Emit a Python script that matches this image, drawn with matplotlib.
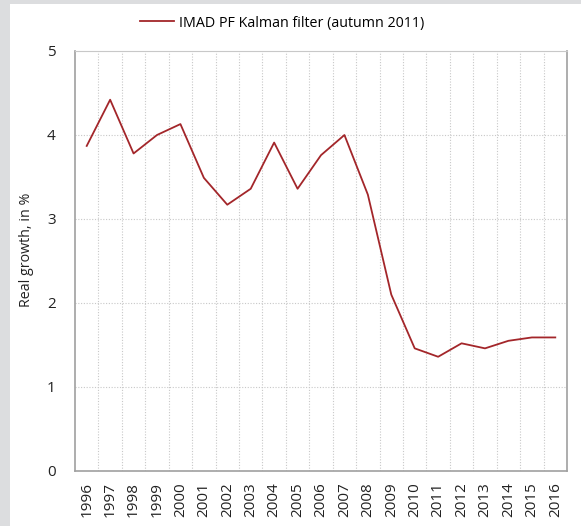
import matplotlib
matplotlib.use("Agg")
import matplotlib.pyplot as plt
from matplotlib.patches import Rectangle
from matplotlib.lines import Line2D

years = [str(y) for y in range(1996, 2017)]
growth = [3.87, 4.42, 3.78, 4.00, 4.13, 3.49, 3.17, 3.36, 3.91, 3.36,
          3.76, 4.00, 3.29, 2.10, 1.46, 1.36, 1.52, 1.46, 1.55, 1.59, 1.59]
yticks = [0, 1, 2, 3, 4, 5]
series_label = "IMAD PF Kalman filter (autumn 2011)"
ylabel = "Real growth, in %"

plt.rcParams['font.family'] = ['Open Sans', 'DejaVu Sans']

W, H = 581, 526
fig = plt.figure(figsize=(W / 100, H / 100), dpi=100, facecolor='#dcdddf')
fig.patches.append(Rectangle((10 / W, 0), 1 - 10 / W, 1 - 4 / H,
                             transform=fig.transFigure, facecolor='white',
                             edgecolor='none', zorder=-5))

ax = fig.add_axes([75 / W, 55 / H, 492 / W, 420 / H])
ax.set_zorder(2)
ax.set_facecolor('white')
n = len(years)
x = list(range(n))
line, = ax.plot(x, growth, color='#a3262a', lw=1.3, zorder=3)

ax.set_xlim(-0.5, n - 0.5)
ax.set_ylim(0, 5)
ax.set_yticks(yticks)
ax.set_yticklabels([str(v) for v in yticks], fontsize=11)
ax.set_xticks(x)
ax.set_xticklabels(years, rotation=90, fontsize=11)
ax.tick_params(length=0, colors='#222222')
ax.tick_params(axis='x', pad=8)
ax.tick_params(axis='y', pad=14)

# grid
for b in range(1, n):
    ax.axvline(b - 0.5, color='#c8c8c8', lw=0.8, ls=(0, (1, 1.5)), zorder=1)
for v in yticks[1:-1]:
    ax.axhline(v, color='#c8c8c8', lw=0.8, ls=(0, (1, 1.5)), zorder=1)

for s in ax.spines.values():
    s.set_color('#a0a0a0')
    s.set_linewidth(1.2)
ax.spines['top'].set_color('#c8c8c8')
ax.spines['top'].set_linewidth(0.8)

ax.set_ylabel(ylabel, fontsize=10.3, color='#222222')
ax.yaxis.set_label_coords((34 - 75) / 492, (471 - 250) / 420)

leg = fig.legend(handles=[Line2D([], [], color='#a3262a', lw=1.3)],
                 labels=[series_label], loc='center', bbox_to_anchor=(282 / W, 1 - 23 / H),
                 frameon=False, fontsize=10.3, handlelength=2.4, handletextpad=0.3)
leg.set_zorder(3)

fig.savefig('out.png', dpi=100, facecolor=fig.get_facecolor())
